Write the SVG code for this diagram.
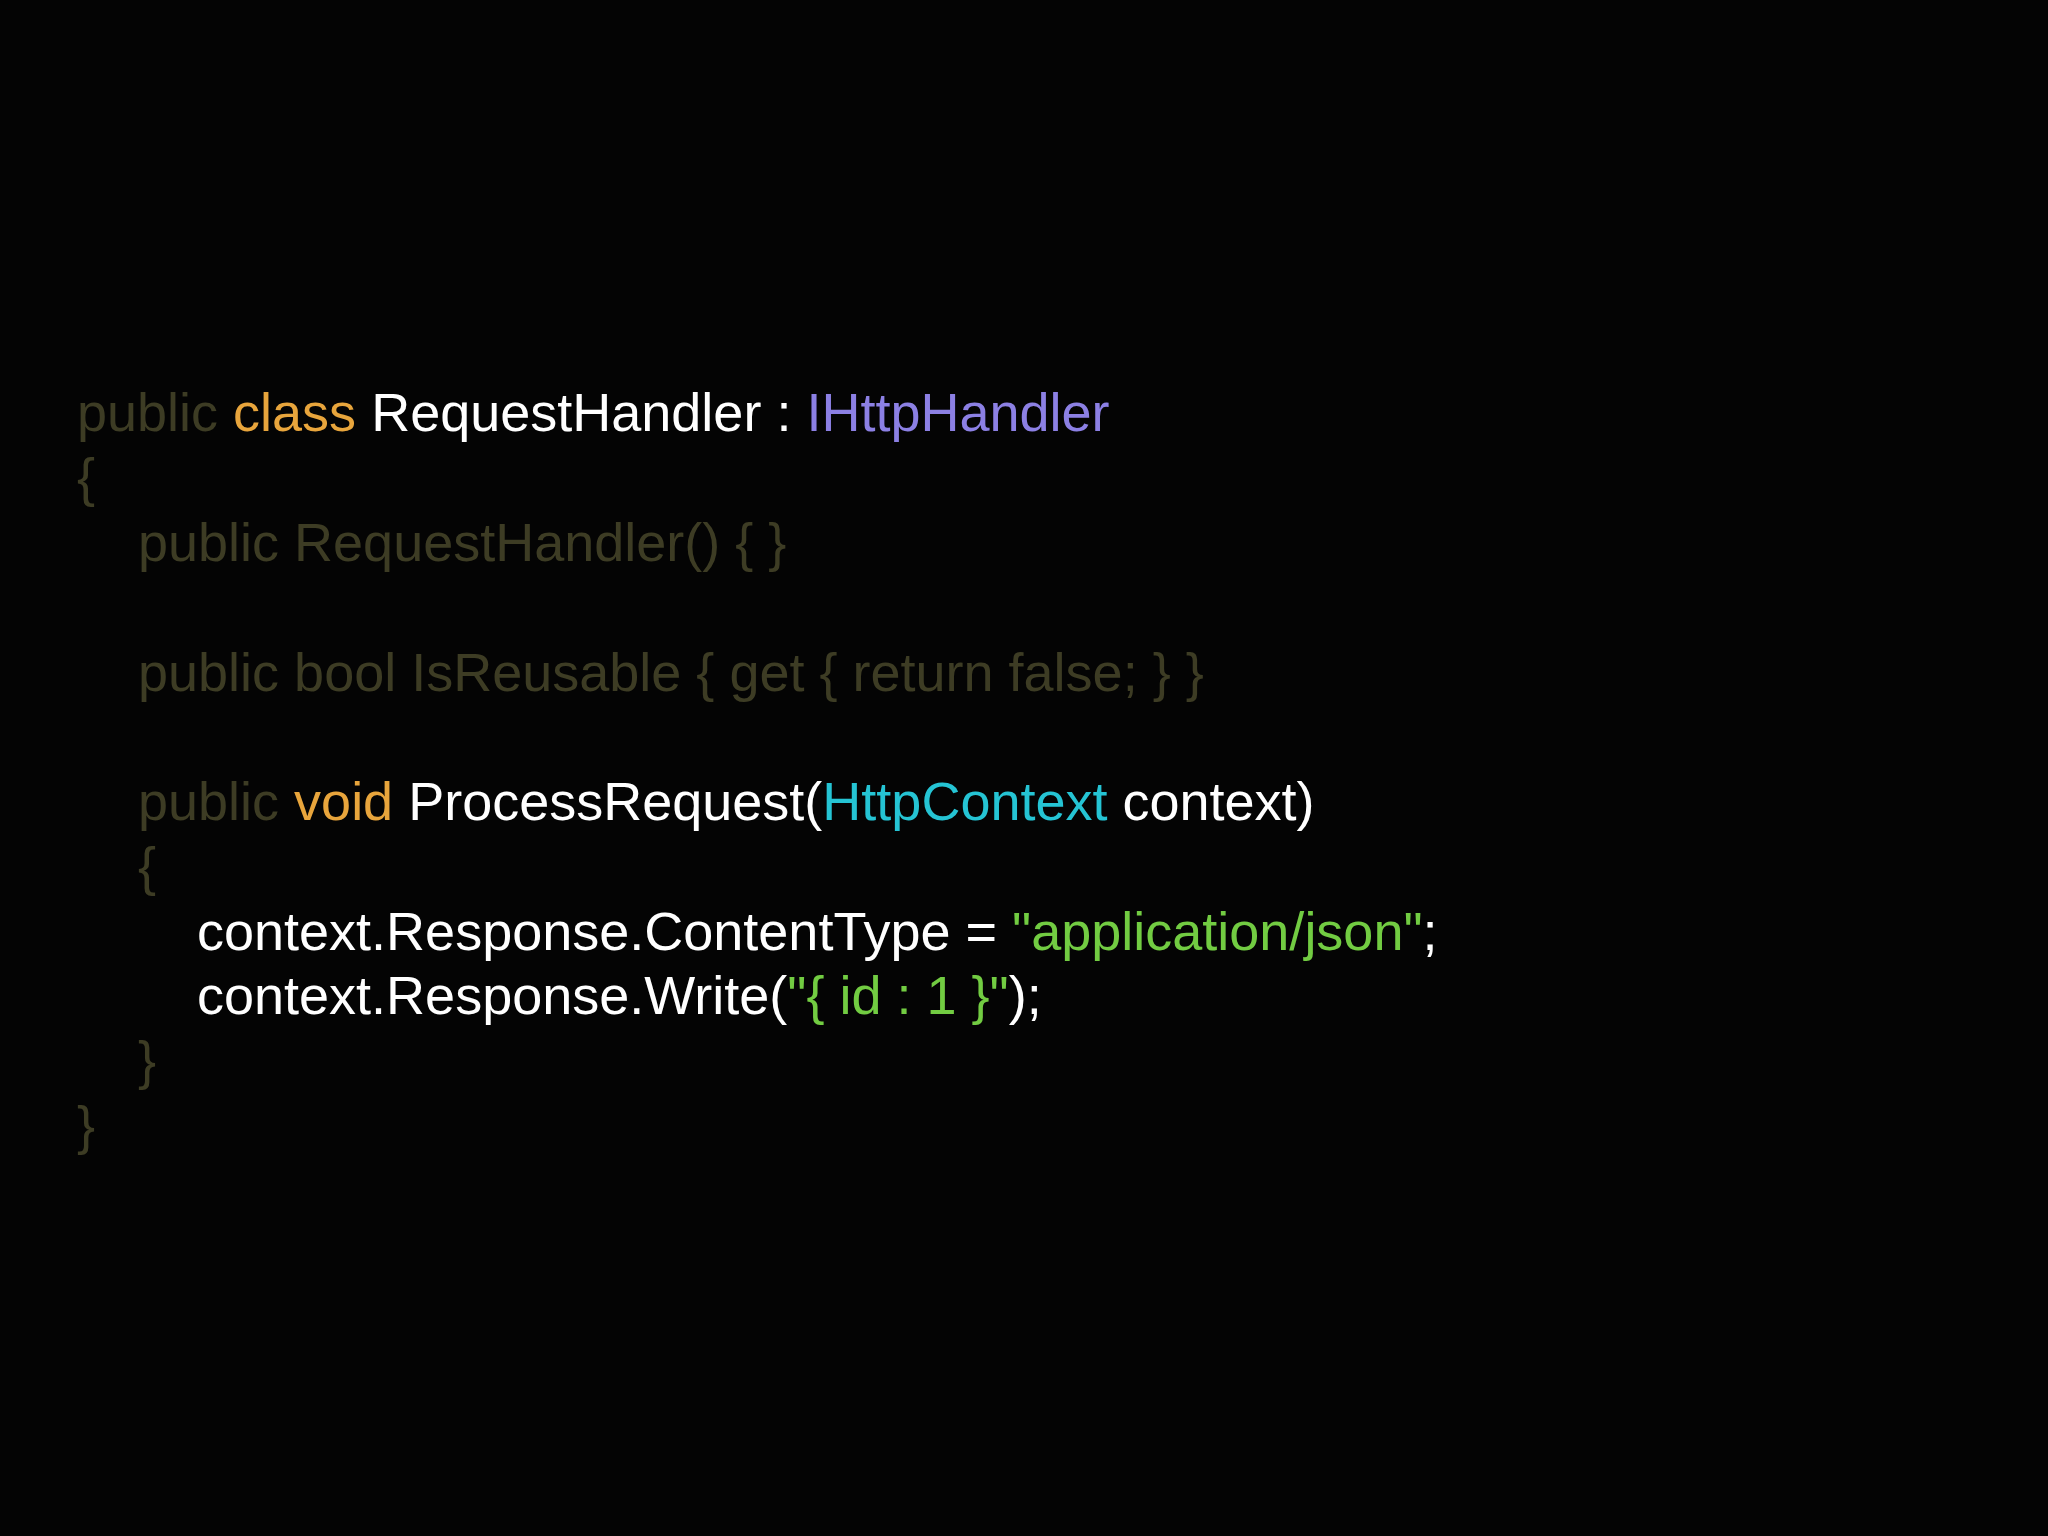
<svg xmlns="http://www.w3.org/2000/svg" width="2048" height="1536" viewBox="0 0 2048 1536">
<style>
text{font-family:"Liberation Sans",Arial,sans-serif;font-size:54px;fill:#ffffff;white-space:pre}
.d{fill:#3d3c24}.k{fill:#e8a53c}.i{fill:#8c80e4}.t{fill:#25c4d4}.s{fill:#72cc42}
</style>
<rect width="2048" height="1536" fill="#040404"/>
<g id="code">
<text x="77" y="431"><tspan class="d">public </tspan><tspan class="k">class </tspan>RequestHandler : <tspan class="i">IHttpHandler</tspan></text>
<text x="77" y="496" class="d">{</text>
<text x="138" y="561" class="d">public RequestHandler() { }</text>
<text x="138" y="691" class="d">public bool IsReusable { get { return false; } }</text>
<text x="138" y="820"><tspan class="d">public </tspan><tspan class="k">void </tspan>ProcessRequest(<tspan class="t">HttpContext</tspan> context)</text>
<text x="138" y="885" class="d">{</text>
<text x="197" y="950">context.Response.ContentType = <tspan class="s">"application/json"</tspan>;</text>
<text x="197" y="1014">context.Response.Write(<tspan class="s">"{ id : 1 }"</tspan>);</text>
<text x="138" y="1079" class="d">}</text>
<text x="77" y="1144" class="d">}</text>
</g>
</svg>
